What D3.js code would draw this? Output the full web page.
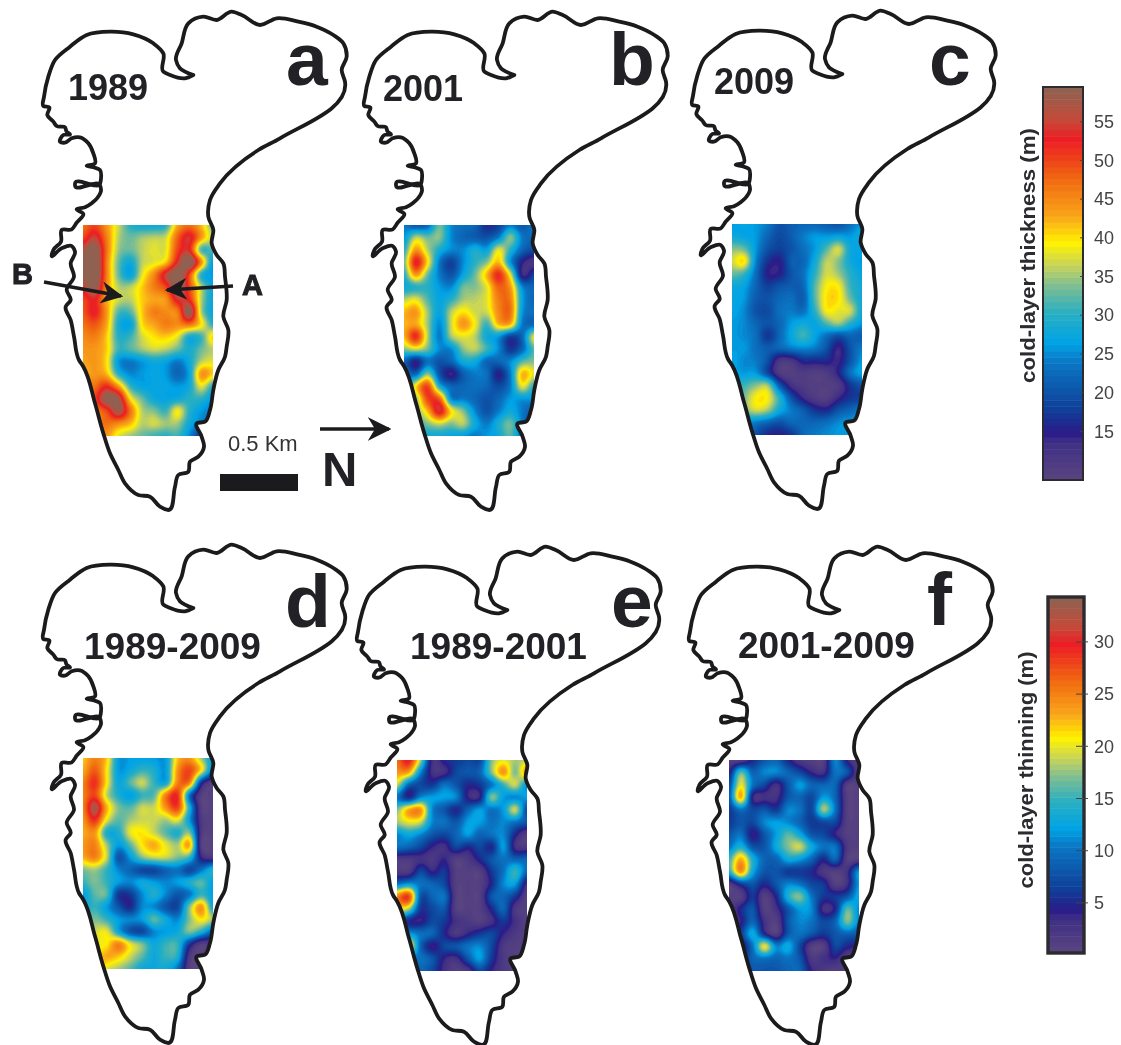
<!DOCTYPE html>
<html><head><meta charset="utf-8">
<script src="https://cdn.jsdelivr.net/npm/d3@7"></script>
<style>html,body{margin:0;background:#fff}svg{display:block;filter:blur(.4px)}text{font-family:"Liberation Sans",Arial,sans-serif}</style>
</head><body><div id="c"></div><script>
// ---------- data ----------
const gridCols = 12, gridRows = 18;
const thickness1989 = [
47,50,44,37,30,28,28,30,43,47,42,33,
50,55,46,36,33,35,36,37,48,54,44,36,
57,61,47,35,33,36,38,38,50,53,32,32,
59,63,46,33,28,36,38,41,54,62,45,26,
59,63,46,33,27,38,45,55,62,50,30,26,
55,60,45,36,36,41,46,50,60,50,36,27,
50,53,43,37,36,41,43,44,54,52,36,27,
49,53,44,32,32,41,46,45,46,60,36,27,
47,49,43,29,27,40,43,46,45,47,40,30,
45,46,41,30,31,37,40,41,38,29,31,41,
44,44,41,31,32,35,37,36,33,29,33,36,
43,44,40,26,24,26,28,27,24,28,36,38,
42,44,42,30,25,26,27,26,22,27,44,41,
46,47,52,44,31,27,27,27,26,28,38,30,
46,50,60,58,40,33,28,27,28,30,30,26,
46,46,50,58,47,36,34,31,39,30,26,24,
45,46,47,45,42,36,37,35,35,28,24,22,
42,43,44,38,35,33,31,30,31,25,17,20];
const thickness2001 = [
24,20,22,33,25,23,22,16,18,24,20,24,
26,36,33,34,25,22,21,20,24,34,24,22,
30,44,36,29,25,25,29,27,38,30,22,19,
33,53,40,24,18,25,30,34,42,26,15,12,
30,44,33,24,20,27,33,42,52,38,14,18,
28,30,30,26,25,33,34,38,48,44,25,22,
36,38,32,27,30,35,36,38,46,46,27,22,
42,44,35,27,36,40,37,37,45,47,26,23,
42,43,35,25,37,44,39,31,42,42,24,22,
42,52,36,24,35,38,36,28,26,18,22,38,
34,37,33,25,25,34,36,31,25,17,22,32,
22,15,23,20,22,28,28,22,22,25,32,34,
24,22,34,20,14,21,24,23,15,24,42,38,
25,40,50,29,22,22,23,22,19,24,38,30,
27,34,50,48,25,24,22,20,22,26,26,26,
28,33,42,54,40,34,25,20,24,28,24,20,
28,30,34,37,34,36,28,24,29,33,24,18,
26,27,28,28,27,26,24,26,28,32,22,14];
const thickness2009 = [
26,27,26,24,20,21,22,22,21,20,23,26,
28,27,26,22,19,21,24,26,26,27,26,28,
34,33,26,20,18,20,23,26,32,37,28,27,
37,40,25,17,15,21,22,28,36,34,28,26,
33,31,23,15,15,20,23,30,37,35,30,27,
28,27,22,18,20,21,22,32,39,39,31,28,
27,26,21,20,22,23,21,32,40,40,33,28,
27,25,20,19,23,24,23,30,39,38,37,28,
26,25,22,20,22,26,28,27,32,35,30,26,
26,25,23,17,22,27,31,27,23,20,22,21,
26,26,23,21,22,24,25,24,20,14,20,24,
27,25,24,20,12,12,16,16,16,14,20,26,
27,26,26,19,11,10,11,10,11,15,23,27,
30,31,34,35,21,13,11,10,10,11,17,20,
26,33,39,39,30,20,14,11,10,14,17,18,
30,33,37,35,28,24,21,17,16,20,22,24,
27,26,24,22,20,22,22,22,23,25,26,26,
26,25,20,16,15,17,22,24,25,26,26,26];
const thinning8909 = [
22,25,22,12,12,12,12,12,22,24,18,12,
23,27,21,12,13,15,14,12,24,28,21,10,
25,29,21,13,16,19,15,13,25,25,6,1,
25,28,19,14,12,15,16,25,29,10,1,1,
25,33,23,17,16,19,19,24,28,14,1,1,
24,29,20,16,18,19,19,18,20,12,2,1,
23,24,14,14,20,21,19,16,14,17,2,1,
24,25,18,12,16,21,23,20,18,23,1,1,
23,25,19,8,12,17,19,19,17,15,4,2,
17,18,15,11,9,7,7,9,10,7,10,14,
15,17,15,12,11,13,12,11,12,14,16,12,
12,16,16,6,6,11,14,11,8,10,15,12,
13,15,12,8,5,11,11,8,7,17,24,13,
15,17,15,12,11,12,16,13,11,17,21,18,
16,19,20,13,8,7,11,12,13,17,14,9,
18,20,21,25,20,17,13,15,15,6,1,2,
19,21,23,22,19,16,13,15,14,2,1,5,
22,25,20,18,16,13,13,13,10,1,1,8];
const thinning8901 = [
26,30,18,3,5,6,7,7,17,20,18,19,
24,23,11,3,3,7,8,9,17,24,17,24,
19,9,7,6,10,8,5,6,10,15,19,12,
10,5,11,12,12,11,4,4,17,12,11,12,
17,23,24,11,8,5,9,12,10,12,19,7,
18,20,19,11,10,8,12,12,10,11,10,8,
11,13,11,8,7,9,12,9,10,11,5,1,
10,9,7,4,3,7,5,7,5,12,3,2,
2,2,3,2,4,1,2,5,8,10,9,9,
2,2,7,4,6,1,1,1,6,10,15,9,
10,12,10,9,7,1,1,1,5,11,12,3,
25,28,8,9,10,1,1,1,8,9,6,1,
21,18,6,7,8,1,1,1,5,9,2,1,
10,5,4,7,6,3,2,1,3,6,3,1,
11,12,10,9,5,2,4,6,7,4,2,1,
10,21,9,4,7,8,10,11,7,2,1,1,
8,9,10,8,4,3,8,12,6,2,1,1,
7,8,9,7,3,1,2,7,4,2,1,1];
const thinning0109 = [
1,1,5,8,9,5,2,1,1,11,4,1,
4,16,9,11,11,9,7,4,3,10,8,1,
7,20,10,7,3,8,12,9,9,9,1,1,
8,23,4,3,3,8,9,7,12,9,1,1,
6,10,7,8,6,11,10,7,18,10,1,1,
6,8,7,11,12,11,9,6,7,7,1,1,
8,10,4,8,12,16,13,8,7,4,1,1,
10,14,8,8,13,17,19,13,10,10,2,1,
15,23,14,9,9,13,12,9,5,9,1,1,
14,24,13,8,8,6,6,5,2,1,3,12,
1,6,8,5,8,11,10,7,6,1,3,12,
1,1,6,1,5,14,17,10,6,6,8,13,
1,5,8,1,3,8,12,11,3,5,16,11,
1,4,9,3,1,8,11,10,7,9,17,11,
1,6,13,5,1,8,10,8,6,8,9,8,
2,3,10,20,11,13,7,1,1,7,5,4,
2,5,9,10,9,10,8,2,3,4,1,1,
4,6,8,8,8,9,9,4,2,1,1,1];
const coastE = [580,555,510,490,490,460,400,330,260,210,165,145,132,130,148,142,160,170,195,200,210,190,180,195,215,240,265,280,285,260,285,300,303,300,225,225,300,303,298,275,255,230,250,230,215,185,183,160,155,185,215,225,212,222,200,212,197,212,222,237,250,285,310,330,355,375,415,450,480,505,525,535,565,570,595,612,605,590,615,630,640,655,675,680,685,670,680,675,670,650,635,640,625,630,660,775,840,1035,1025,1040,1030,1000,950,895,830,780,725,695,650,610,565,545,528,540,555,580];
const coastN = [225,235,225,215,160,130,103,95,105,140,180,230,290,318,322,345,365,378,382,395,403,405,425,428,415,412,430,460,490,497,503,510,535,551,551,556,556,572,585,610,622,628,642,668,688,690,725,750,768,745,738,755,790,830,870,900,920,960,1010,1080,1100,1210,1300,1360,1410,1450,1485,1490,1520,1530,1460,1425,1415,1385,1370,1340,1310,1270,1265,1230,1170,1110,1070,1040,990,950,900,830,790,765,730,690,650,600,550,450,415,245,210,170,130,105,80,65,55,75,45,35,60,50,70,130,180,205,215,225];
const thicknessTicks = [15,20,25,30,35,40,45,50,55];
const thinningTicks = [5,10,15,20,25,30];
const thicknessDomain = [8.7,59.5];
const thinningDomain = [0.2,34.3];
const cmapPos = [0,.097,.12,.18,.30,.35,.427,.495,.545,.604,.672,.765,.866,.917,1];
const cmapCol = ["#5a4580","#3f2f85","#2b1a88","#0f3f98","#0a77c4","#00a3e6","#2bafc0","#7fbe93","#c5d35c","#fff200","#f9a51a","#f06a10","#ed1c24","#c54a3a","#8c6352"];
const panelLetters = ["a","b","c","d","e","f"];
const panelTitles = ["1989","2001","2009","1989-2009","1989-2001","2001-2009"];
const panelGrids = [thickness1989,thickness2001,thickness2009,thinning8909,thinning8901,thinning0109];
// ---------- layout ----------
const W=1121,H=1045;
const rectL=[83,404,732,83,397,729], rectT=[225,225,224,758,760,760];
const rectW=130, rectH=211;
const letterX=[286,609,929,285,611,927], letterY=[85,85,85,627,627,625];
const titleX=[68,383,714,84,410,738], titleY=[100,101,94,659,659,658];
const titleSize=[36,36,36,37,37,37];
const cx=d3.scaleLinear().domain([0,3]).range([0,1]);
const svg=d3.select("#c").append("svg").attr("width",W).attr("height",H);
svg.append("rect").attr("width",W).attr("height",H).attr("fill","#fff");
const cmap=d3.scaleLinear().domain(cmapPos).range(cmapCol).interpolate(d3.interpolateRgb);
// catmull-rom resampling used only to draw smooth shading from the grid
function cr(a,b,c,d,t){return .5*((2*b)+(c-a)*t+(2*a-5*b+4*c-d)*t*t+(3*b-a-3*c+d)*t*t*t);}
function up(g,n,m,f){const N=(n-1)*f+1,M=(m-1)*f+1,o=new Array(N*M);
 const at=(i,j)=>g[Math.max(0,Math.min(m-1,j))*n+Math.max(0,Math.min(n-1,i))];
 for(let y=0;y<M;y++){const j=Math.floor(y/f),v=y/f-j;
  for(let x=0;x<N;x++){const i=Math.floor(x/f),u=x/f-i;
   const r=[-1,0,1,2].map(d=>cr(at(i-1,j+d),at(i,j+d),at(i+1,j+d),at(i+2,j+d),u));
   o[y*N+x]=cr(r[0],r[1],r[2],r[3],v);}}
 return {v:o,N,M};}
const line=d3.line().curve(d3.curveCatmullRom.alpha(1));
panelGrids.forEach((g,p)=>{
 const dom=p<3?thicknessDomain:thinningDomain;
 const col=t=>cmap((t-dom[0])/(dom[1]-dom[0]));
 const dx=rectL[p]-rectL[0], dy=rectT[p]-rectT[0];
 const pts=coastE.map((e,i)=>[cx(e)+dx,cx(coastN[i])+dy]);
 const coast=line(pts)+"Z";
 const defs=svg.append("defs");
 defs.append("clipPath").attr("id","r"+p).append("rect").attr("x",rectL[p]).attr("y",rectT[p]).attr("width",rectW).attr("height",rectH);
 defs.append("clipPath").attr("id","k"+p).append("path").attr("d",coast);
 const outer=svg.append("g").attr("clip-path",`url(#k${p})`);
 const inner=outer.append("g").attr("clip-path",`url(#r${p})`);
 const f=6,u=up(g,gridCols,gridRows,f);
 const sx=d3.scaleLinear().domain([.5,u.N-.5]).range([rectL[p],rectL[p]+rectW]);
 const sy=d3.scaleLinear().domain([.5,u.M-.5]).range([rectT[p],rectT[p]+rectH]);
 const step=(dom[1]-dom[0])/90, th=d3.range(dom[0],dom[1],step);
 const cs=d3.contours().size([u.N,u.M]).thresholds(th)(u.v);
 const path=d3.geoPath(d3.geoTransform({point(x,y){this.stream.point(sx(x),sy(y));}}));
 inner.append("rect").attr("x",rectL[p]).attr("y",rectT[p]).attr("width",rectW).attr("height",rectH).attr("fill",col(dom[0]));
 inner.selectAll("path").data(cs).join("path").attr("d",path).attr("fill",d=>col(d.value+step/2));
 svg.append("path").attr("d",coast).attr("fill","none").attr("stroke","#1b1b1e").attr("stroke-width",3.8).attr("stroke-linejoin","round");
 svg.append("text").attr("x",letterX[p]).attr("y",letterY[p]).attr("font-size",75).attr("font-weight",700).attr("fill","#222226").text(panelLetters[p]);
 svg.append("text").attr("x",titleX[p]).attr("y",titleY[p]).attr("font-size",titleSize[p]).attr("font-weight",700).attr("fill","#222226").text(panelTitles[p]);
});
// annotations
const defs=svg.append("defs");
defs.append("marker").attr("id","ah").attr("viewBox","0 0 10 10").attr("refX",9).attr("refY",5).attr("markerWidth",6.5).attr("markerHeight",6.5).attr("orient","auto").attr("markerUnits","strokeWidth").append("path").attr("d","M0,0L10,5L0,10L3,5Z").attr("fill","#1b1b1e");
function arrow(a,b,c,d,w){svg.append("line").attr("x1",a).attr("y1",b).attr("x2",c).attr("y2",d).attr("stroke","#1b1b1e").attr("stroke-width",w).attr("marker-end","url(#ah)");}
arrow(44,282,121,296,3.4);arrow(233,286,167,290,3.4);arrow(320,429,389,429,3.6);
[["B",12,284],["A",242,295]].forEach(a=>svg.append("text").attr("x",a[1]).attr("y",a[2]).attr("font-size",29).attr("font-weight",700).attr("stroke","#222226").attr("stroke-width",1).attr("fill","#222226").text(a[0]));
svg.append("text").attr("x",228).attr("y",451).attr("font-size",22).attr("fill","#333").text("0.5 Km");
svg.append("rect").attr("x",220).attr("y",474).attr("width",78).attr("height",17).attr("fill","#1b1b1e");
svg.append("text").attr("x",322).attr("y",486).attr("font-size",49).attr("font-weight",700).attr("fill","#222226").text("N");
// colour bars
function bar(x,w,y0,y1,dom,ticks,label,labelX,labelY,labelLen,sw,tickLen){
 const s=d3.scaleLinear().domain(dom).range([y1,y0]);
 const n=64,b=d3.range(n);
 svg.append("g").selectAll("rect").data(b).join("rect").attr("x",x)
  .attr("y",i=>y0+(y1-y0)*(n-1-i)/n).attr("width",w).attr("height",(y1-y0)/n+.5)
  .attr("fill",i=>cmap((i+.5)/n));
 svg.append("rect").attr("x",x).attr("y",y0).attr("width",w).attr("height",y1-y0).attr("fill","none").attr("stroke","#2b2b30").attr("stroke-width",sw);
 const ax=svg.append("g").attr("transform","translate(1084,0)").call(d3.axisRight(s).tickValues(ticks).tickSize(0).tickPadding(10));
 ax.select(".domain").remove();
 ax.selectAll("text").attr("font-size",18).attr("fill","#444").attr("font-family",'"Liberation Sans"');
 ticks.forEach(t=>svg.append("line").attr("x1",x+w-tickLen).attr("x2",x+w+(tickLen>4?4:0)).attr("y1",s(t)).attr("y2",s(t)).attr("stroke","#444").attr("stroke-width",1));
 svg.append("text").attr("transform",`translate(${labelX},${labelY}) rotate(-90)`).attr("text-anchor","middle").attr("font-size",20).attr("font-weight",700).attr("textLength",labelLen).attr("lengthAdjust","spacingAndGlyphs").attr("fill","#2b2b30").text(label);
}
bar(1043,40,87,480,thicknessDomain,thicknessTicks,"cold-layer thickness (m)",1035,255.5,255,2,3);
bar(1048,36,597,953,thinningDomain,thinningTicks,"cold-layer thinning (m)",1033,770,237,3.4,8);
</script></body></html>
